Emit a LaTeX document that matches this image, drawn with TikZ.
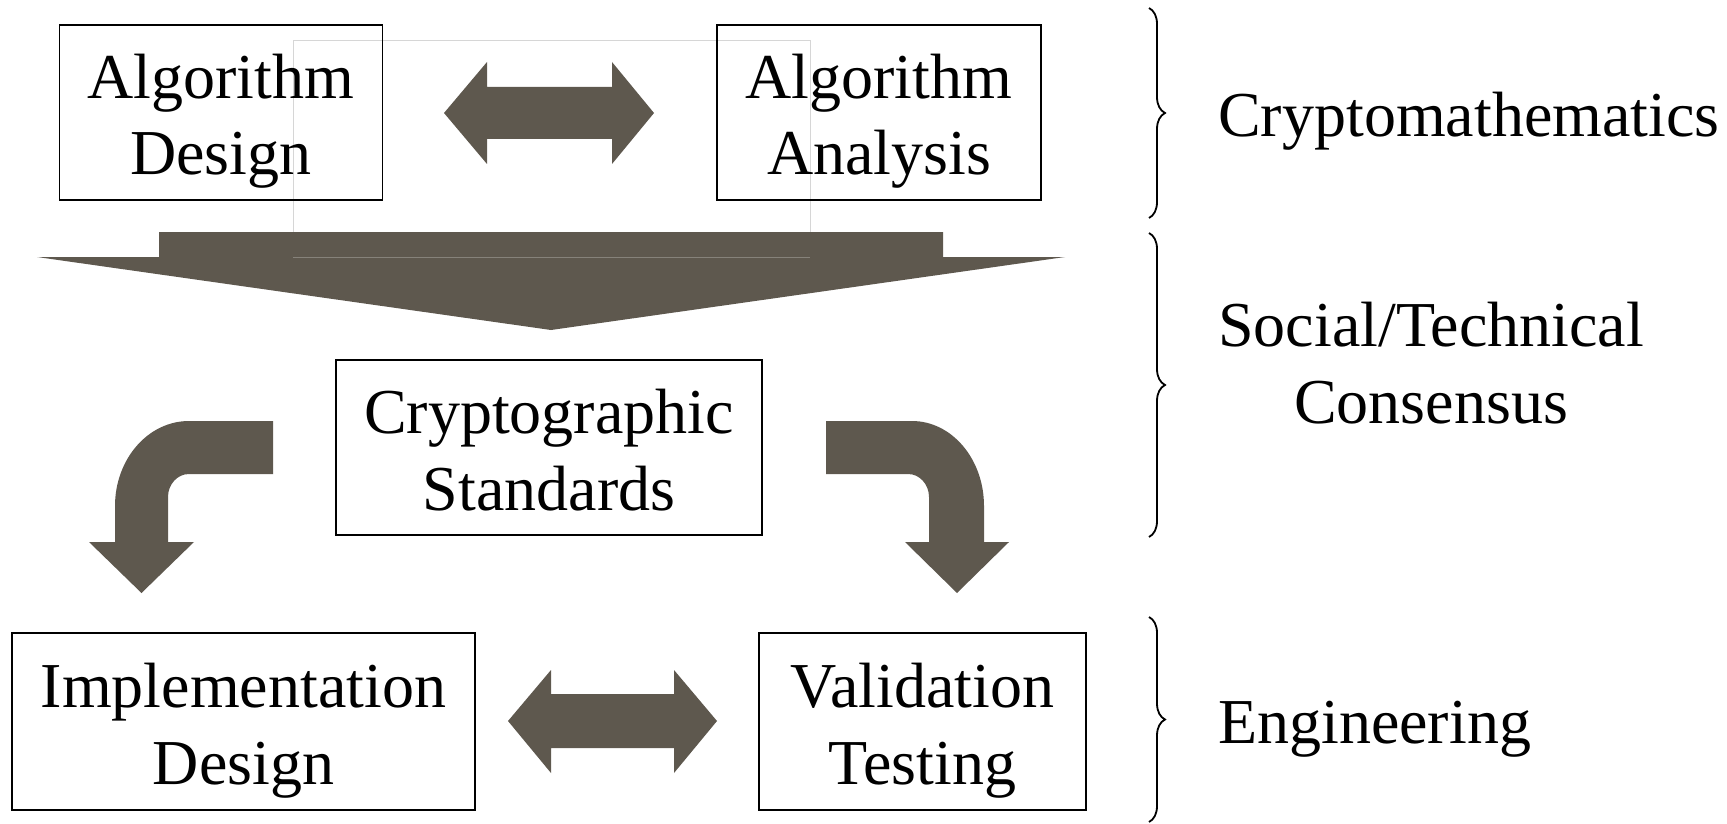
\documentclass[tikz,border=0pt]{standalone}
\usepackage{fontspec}
\setmainfont{Liberation Serif}
\usetikzlibrary{decorations.pathreplacing}
\definecolor{arrowfill}{RGB}{94,88,78}
\definecolor{faintline}{RGB}{214,214,214}
\newcommand\bigfont{\fontsize{64}{77}\selectfont}
\begin{document}
\begin{tikzpicture}[x=1pt,y=-1pt,
  box/.style={draw, line width=1.6pt, inner sep=0pt, align=center, font=\bigfont,
    text height=135pt, text depth=10pt},
  fat/.style={fill=arrowfill, draw=none},
  bracestyle/.style={decorate, decoration={brace, amplitude=16pt, aspect=0.5}, line width=1.8pt},
  lbl/.style={font=\bigfont, align=center, inner sep=0pt}]
\useasboundingbox (0,0) rectangle (1727,824);

% faint frame behind
\draw[faintline, line width=0.8pt] (293,40) rectangle (810,258);

% boxes
\node[box, minimum width=323pt, minimum height=175pt] (ad) at (221,112.5) {Algorithm\\Design};
\node[box, minimum width=324pt, minimum height=175pt] (aa) at (879,112.5) {Algorithm\\Analysis};
\node[box, minimum width=426pt, minimum height=175pt] (cs) at (549,447.5) {Cryptographic\\Standards};
\node[box, minimum width=463pt, minimum height=177pt] (id) at (243.5,721.5) {Implementation\\Design};
\node[box, minimum width=327pt, minimum height=177pt] (vt) at (922.5,721.5) {Validation\\Testing};

% top double arrow
\fill[fat] (444,113) -- (487,62) -- (487,87) -- (612,87) -- (612,62) -- (654,113)
  -- (612,164) -- (612,139) -- (487,139) -- (487,164) -- cycle;

% big down arrow
\fill[fat] (159,232) -- (943,232) -- (943,257) -- (1065,257) -- (551,330)
  -- (37,257) -- (159,257) -- cycle;
\draw[arrowfill!75!white, line width=0.6pt] (293,257) -- (810,257);

% left curved arrow
\fill[fat] (273,421) -- (189,421) arc[start angle=270, end angle=180, x radius=74, y radius=85]
  -- (115,542) -- (89,542) -- (141.5,593) -- (194,542) -- (168,542) -- (168,497)
  arc[start angle=180, end angle=270, x radius=21, y radius=23] -- (273,474) -- cycle;

% right curved arrow
\fill[fat] (826,421) -- (912,421) arc[start angle=270, end angle=360, x radius=72, y radius=85]
  -- (984,542) -- (1009,542) -- (957,593) -- (905,542) -- (929,542) -- (929,497)
  arc[start angle=0, end angle=-90, x radius=21, y radius=23] -- (826,474) -- cycle;

% bottom double arrow
\fill[fat] (508,721) -- (551,670) -- (551,694) -- (674,694) -- (674,670) -- (717,721)
  -- (674,773) -- (674,748) -- (551,748) -- (551,773) -- cycle;

% braces
\draw[bracestyle] (1149,8) -- (1149,218);
\draw[bracestyle] (1149,233) -- (1149,537);
\draw[bracestyle] (1149,617) -- (1149,822);

% labels
\node[lbl, anchor=base west] (l1) at (1218,137) {Cryptomathematics};
\node[lbl] (l2) at (1431,363) {Social/Technical\\Consensus};
\node[lbl, anchor=base west] (l3) at (1218,743) {Engineering};
\end{tikzpicture}
\end{document}
